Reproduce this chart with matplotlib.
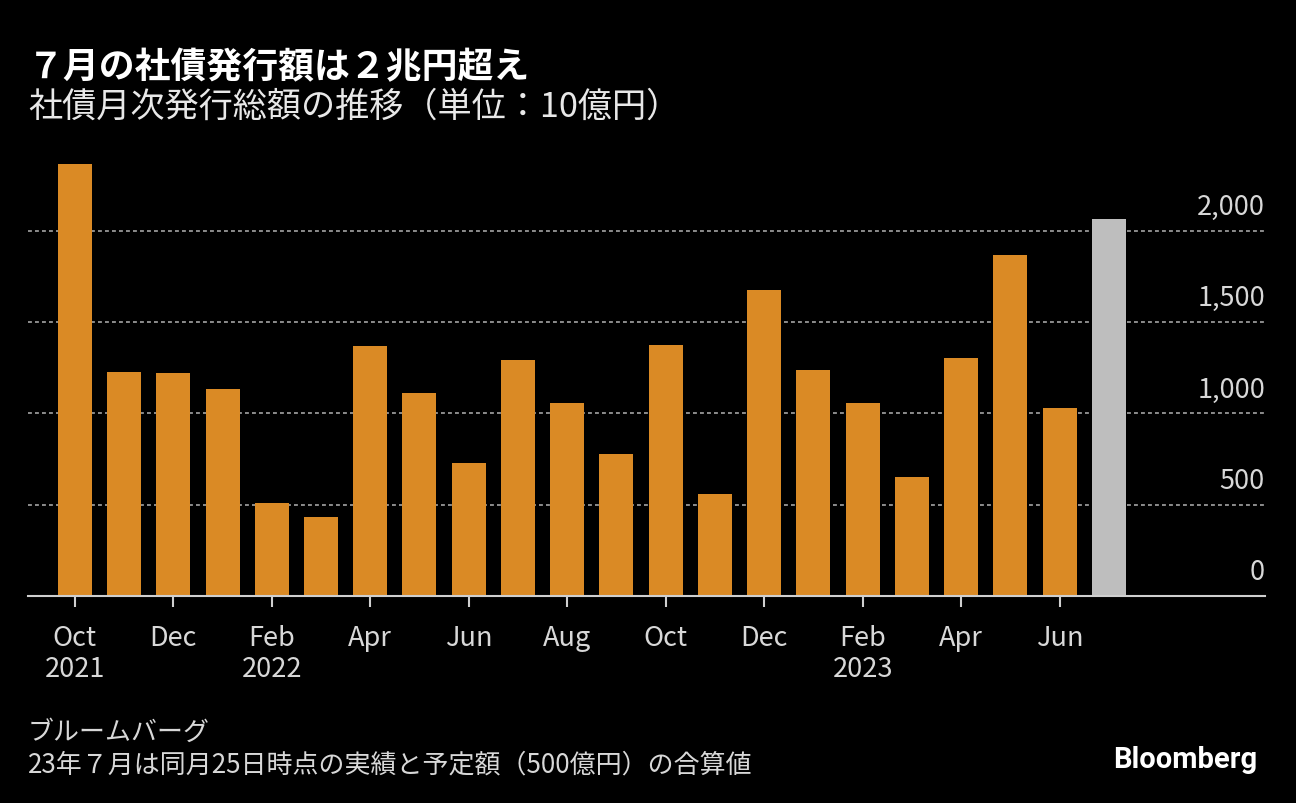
import matplotlib
matplotlib.use("Agg")
import matplotlib.pyplot as plt
import matplotlib.transforms as mtransforms
import numpy as np

plt.rcParams["font.family"] = ["Noto Sans CJK JP", "DejaVu Sans"]

# 社債月次発行総額（10億円）, 2021年10月〜2023年7月
months = ["2021-10", "2021-11", "2021-12", "2022-01", "2022-02", "2022-03",
          "2022-04", "2022-05", "2022-06", "2022-07", "2022-08", "2022-09",
          "2022-10", "2022-11", "2022-12", "2023-01", "2023-02", "2023-03",
          "2023-04", "2023-05", "2023-06", "2023-07"]
values = [2367, 1228, 1221, 1130, 509, 430,
          1367, 1108, 728, 1292, 1055, 779,
          1376, 555, 1674, 1239, 1057, 648,
          1305, 1864, 1026, 2061]
is_estimate = [False] * 21 + [True]

tick_pos = [0, 2, 4, 6, 8, 10, 12, 14, 16, 18, 20]
tick_labels = ["Oct\n2021", "Dec", "Feb\n2022", "Apr", "Jun", "Aug",
               "Oct", "Dec", "Feb\n2023", "Apr", "Jun"]
y_ticks = [0, 500, 1000, 1500, 2000]

ORANGE = "#DA8A25"
GREY_BAR = "#BEBEBE"
TEXT = "#D8D8D8"

fig = plt.figure(figsize=(12.96, 8.04), dpi=100, facecolor="black")
ax = fig.add_axes([28 / 1296, 207.2 / 804, 1237 / 1296, 438.2 / 804])
ax.set_facecolor("black")

x = np.arange(len(values))
colors = [GREY_BAR if e else ORANGE for e in is_estimate]
ax.bar(x, values, width=0.69, color=colors, zorder=3)

ax.set_xlim(-0.95, 24.17)
ax.set_ylim(0, 2400)

# gridlines
for v in y_ticks[1:]:
    ax.axhline(v, color="#8C8C8C", lw=1.4, ls=(0, (2, 1.6)), zorder=1)

# y labels on right, above gridlines
trans = mtransforms.blended_transform_factory(ax.transAxes, ax.transData)
trans = trans + mtransforms.ScaledTranslation(0, 12 / 72, fig.dpi_scale_trans)
for v in y_ticks:
    ax.text(1.0, v, f"{v:,}", transform=trans, ha="right", va="baseline",
            fontsize=19.5, color=TEXT)

ax.set_yticks([])
for s in ["top", "right", "left"]:
    ax.spines[s].set_visible(False)
ax.spines["bottom"].set_color("#CFCFCF")
ax.spines["bottom"].set_linewidth(1.5)
ax.spines["bottom"].set_zorder(4)

ax.set_xticks(tick_pos)
ax.set_xticklabels(tick_labels, fontsize=19.5, color=TEXT, linespacing=1.22)
ax.tick_params(axis="x", length=8, width=1.5, color="#CFCFCF", pad=12)

fig.text(28 / 1296, 1 - 68 / 804, "７月の社債発行額は２兆円超え", fontsize=25.8,
         fontweight="bold", color="white", va="center", ha="left")
fig.text(28 / 1296, 1 - 107.5 / 804, "社債月次発行総額の推移（単位：10億円）", fontsize=24.6,
         color="#E8E8E8", va="center", ha="left")

fig.text(28 / 1296, 1 - 732 / 804, "ブルームバーグ", fontsize=18.7,
         color=TEXT, va="center", ha="left")
fig.text(28 / 1296, 1 - 765 / 804, "23年７月は同月25日時点の実績と予定額（500億円）の合算値",
         fontsize=18.7, color=TEXT, va="center", ha="left")
fig.text(1257 / 1296, 1 - 760 / 804, "Bloomberg", fontsize=21, fontweight="bold",
         family=["Roboto", "DejaVu Sans"], color="white", va="center", ha="right")

fig.savefig("out.png", dpi=100, facecolor="black")
